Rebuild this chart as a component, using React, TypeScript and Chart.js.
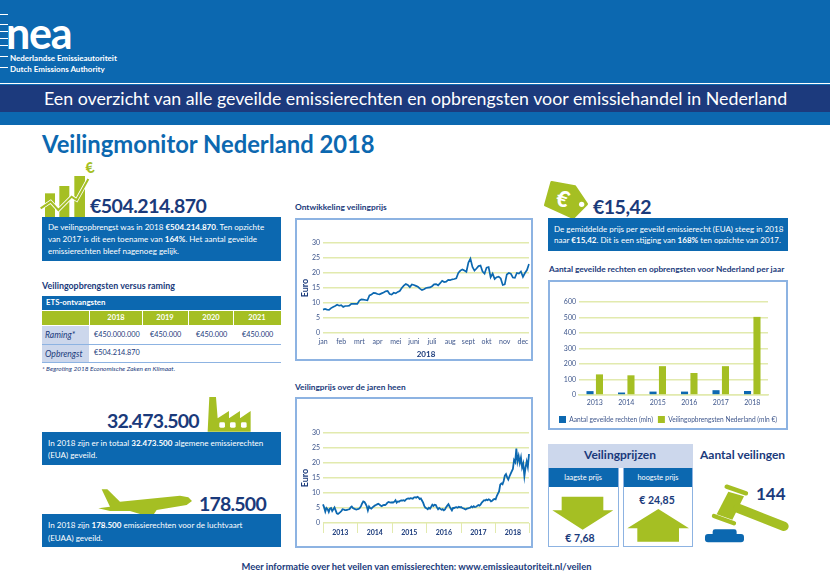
import React, { useEffect, useRef } from "react";
import { Chart, registerables } from "chart.js";
Chart.register(...registerables);

const BLUE = "#0c68b0", NAVY = "#1a3a7b", LIME = "#a5bf23", BORDER = "#8db3e2", LIGHT = "#ccd7ec", GRID = "#e2eaae", TICK = "#3f578c";
const FONT = "Lato";
Chart.defaults.font.family = FONT;

const months = ["jan", "feb", "mrt", "apr", "mei", "juni", "juli", "aug", "sept", "okt", "nov", "dec"];
const priceJan = [7.8, 8, 7.8, 7.7, 8.3, 8.7, 9, 9.4, 9.1];
const priceFeb = [9.3, 8.7, 9, 9, 9.1, 9.7, 9.7, 9.7, 9.7];
const priceMrt = [10.8, 11.2, 11.1, 11, 10.9, 12.5, 12.8, 13.4, 13.3];
const priceApr = [13, 12.9, 13.2, 13.5, 13.9, 14, 13, 12.8, 13.4];
const priceMei = [13.2, 13.7, 14, 15, 15.8, 16.3, 16, 15.3, 16.2];
const priceJun = [16, 15.7, 15.4, 14.8, 14.3, 14.6, 15, 15.1, 15.2];
const priceJul = [15.6, 16.2, 16.3, 15.9, 16.6, 17.4, 17, 17.1, 17.7];
const priceAug = [17.6, 17.9, 18, 18.2, 20, 20.8, 21.2, 20.8, 20.4];
const priceSep = [23.5, 24.8, 22, 20.8, 21.5, 22.3, 22.5, 20.5, 19.8];
const priceOkt = [21.8, 22, 18.6, 19.8, 18, 18.6, 18.8, 18.2, 16];
const priceNov = [16.2, 19.5, 20, 19.8, 18.5, 18.4, 20, 19.8, 20.5];
const priceDec = [18.7, 20, 21, 23];
const price2018 = [priceJan, priceFeb, priceMrt, priceApr, priceMei, priceJun, priceJul, priceAug, priceSep, priceOkt, priceNov, priceDec];

const years = ["2013", "2014", "2015", "2016", "2017", "2018"];
const hist2013 = [6.2, 5.2, 3.8, 5, 4.6, 3.7, 4.8, 5, 4, 4.6, 5.2, 4.2, 3.2, 3, 3.3, 3.6, 4, 4.6, 4.5, 4.3, 4.3, 4.4, 4.5, 4.6, 5.2, 5.5, 5, 4.8, 4.6, 4.5];
const hist2014 = [4.6, 4.7, 5, 5.6, 6.5, 7.2, 7, 6.4, 5.6, 4.2, 5.5, 5, 4.8, 5.2, 5.5, 5.8, 6, 6.2, 6.4, 6.2, 5.8, 5.6, 5.9, 6, 6, 6.3, 6.8, 7, 6.9, 6.8];
const hist2015 = [6.9, 6.8, 7.1, 7.6, 6.8, 7.2, 7.1, 7.4, 7.5, 7.5, 7.6, 7.4, 7.8, 8.1, 8.2, 8.1, 8.3, 8.2, 8.1, 8.5, 8.6, 8.4, 8.7, 8.5, 8, 8.2, 7.5, 6.8, 5.7, 5.1];
const hist2016 = [4.9, 4.6, 5.1, 4.8, 5.4, 6.1, 5.7, 6.1, 6, 5.2, 4.6, 5, 4.7, 4.4, 4.6, 4.2, 4.5, 5.3, 5.8, 6.3, 5.5, 4.8, 4.2, 5, 5, 5.2, 5.3, 5.1, 5.4, 5.2];
const hist2017 = [5.3, 5, 4.9, 4.7, 4.5, 4.8, 4.9, 5, 5.1, 5.5, 5.2, 5.6, 5.3, 5.4, 5.7, 6, 5.8, 6.2, 6.8, 7.2, 7.6, 7.5, 7.8, 7.6, 7.9, 7.7, 7.2, 7.4, 7.8, 8];
const hist2018 = [7.9, 9, 9.8, 10.5, 12.8, 13.2, 12.9, 14, 15.8, 16.3, 15.2, 14.5, 15.5, 16.4, 17.2, 18, 21, 20.3, 24.8, 20.5, 22.3, 20, 21.8, 18.5, 19.8, 15.6, 18.5, 20.5, 18.7, 23];
const histAll = [hist2013, hist2014, hist2015, hist2016, hist2017, hist2018];

const barYears = ["2013", "2014", "2015", "2016", "2017", "2018"];
const rights = [25, 16, 22, 22, 31, 26];
const revenue = [133, 127, 186, 142, 186, 504];

function useChart(make: (c: HTMLCanvasElement) => Chart) {
  const ref = useRef<HTMLCanvasElement>(null);
  useEffect(() => {
    const ch = make(ref.current!);
    return () => ch.destroy();
  }, []);
  return ref;
}

const yScale = (w: number, max: number, step: number, withTitle: boolean) => ({
  min: 0, max,
  afterFit: (s: any) => { s.width = w; },
  ticks: { stepSize: step, color: TICK, font: { size: 7 }, padding: 3 },
  grid: { color: GRID, lineWidth: 1.6, drawTicks: false },
  border: { display: false },
  title: { display: withTitle, text: "Euro", color: NAVY, font: { size: 9, weight: "bold" as const }, padding: 0 },
});

function PriceChart() {
  const ref = useChart((c) => {
    const labels: string[] = [];
    const data: number[] = [];
    price2018.forEach((m, i) => m.forEach((v, j) => { labels.push(j === 0 ? months[i] : ""); data.push(v); }));
    return new Chart(c, {
      type: "line",
      data: { labels, datasets: [{ data, borderColor: BLUE, borderWidth: 1.7, pointRadius: 0, tension: 0 }] },
      options: {
        animation: false, responsive: false,
        layout: { padding: { left: 3, right: 2, top: 23, bottom: 0 } },
        plugins: { legend: { display: false }, tooltip: { enabled: false } },
        scales: {
          y: yScale(23, 30, 5, true),
          x: {
            afterFit: (s: any) => { s.height = 26; },
            ticks: { autoSkip: false, maxRotation: 0, color: TICK, font: { size: 7 }, padding: -3 },
            grid: { display: false },
            border: { display: false },
            title: { display: true, text: "2018", color: NAVY, font: { size: 8, weight: "bold" }, padding: { top: 3, bottom: 0 } },
          },
        },
      } as any,
    });
  });
  return <canvas ref={ref} width={234} height={139} style={{ position: "absolute", left: 297, top: 220, width: 234, height: 139 }} />;
}

function HistoryChart() {
  const ref = useChart((c) => {
    const labels: string[] = [];
    const data: number[] = [];
    histAll.forEach((y, i) => y.forEach((v, j) => { labels.push(j === 15 ? years[i] : ""); data.push(v); }));
    const n = data.length;
    return new Chart(c, {
      type: "line",
      data: { labels, datasets: [{ data, borderColor: BLUE, borderWidth: 1.8, pointRadius: 0, tension: 0 }] },
      options: {
        animation: false, responsive: false,
        layout: { padding: { left: 3, right: 2, top: 34, bottom: 0 } },
        plugins: { legend: { display: false }, tooltip: { enabled: false } },
        scales: {
          y: yScale(23, 30, 5, true),
          x: {
            afterFit: (s: any) => { s.height = 23; },
            ticks: { autoSkip: false, maxRotation: 0, color: NAVY, font: { size: 7, weight: "bold" }, padding: -4 },
            grid: {
              drawOnChartArea: false, tickLength: 10, lineWidth: 1,
              color: (ctx: any) => (ctx.index % 30 === 0 || ctx.index === n - 1 ? GRID : "rgba(0,0,0,0)"),
            },
            border: { display: false },
          },
        },
      } as any,
    });
  });
  return <canvas ref={ref} width={234} height={147} style={{ position: "absolute", left: 297, top: 399, width: 234, height: 147 }} />;
}

function BarsChart() {
  const ref = useChart((c) => new Chart(c, {
    type: "bar",
    data: {
      labels: barYears,
      datasets: [
        { label: "Aantal geveilde rechten (mln)", data: rights, backgroundColor: BLUE, categoryPercentage: 0.6, barPercentage: 0.75 },
        { label: "Veilingopbrengsten Nederland (mln €)", data: revenue, backgroundColor: LIME, categoryPercentage: 0.6, barPercentage: 0.75 },
      ],
    },
    options: {
      animation: false, responsive: false,
      layout: { padding: { left: 0, right: 0, top: 20, bottom: 0 } },
      plugins: {
        tooltip: { enabled: false },
        legend: {
          position: "bottom",
          labels: { boxWidth: 7, boxHeight: 7, padding: 5, color: TICK, font: { size: 6.6 } },
        },
      },
      scales: {
        y: { ...yScale(29, 600, 100, false) },
        yRight: {
          position: "right",
          afterFit: (s: any) => { s.width = 18; },
          ticks: { display: false },
          grid: { display: false },
          border: { display: false },
        },
        x: {
          afterFit: (s: any) => { s.height = 16; },
          ticks: { color: TICK, font: { size: 7 }, padding: -4 },
          grid: { display: false },
          border: { color: GRID, width: 1.6 },
        },
      },
    } as any,
  }));
  return <canvas ref={ref} width={236} height={151} style={{ position: "absolute", left: 550, top: 282, width: 236, height: 151 }} />;
}

type TP = { x: number; y: number; s: number; b?: boolean; c?: string; a?: "l" | "c" | "r"; i?: boolean; ls?: number; children: React.ReactNode };
function T({ x, y, s, b, c = NAVY, a = "l", i, ls, children }: TP) {
  const tx = a === "c" ? "-50%" : a === "r" ? "-100%" : "0";
  return (
    <div style={{
      position: "absolute", left: x, top: y, transform: `translate(${tx},-50%)`, fontSize: s, lineHeight: 1,
      fontWeight: b ? 700 : 400, fontStyle: i ? "italic" : "normal", color: c, whiteSpace: "nowrap", letterSpacing: ls,
    }}>{children}</div>
  );
}
function R({ x, y, w, h, c, bd }: { x: number; y: number; w: number; h: number; c?: string; bd?: string }) {
  return <div style={{ position: "absolute", left: x, top: y, width: w, height: h, background: c, border: bd, boxSizing: "border-box" }} />;
}

function Icons() {
  return (
    <svg width={830} height={587} style={{ position: "absolute", left: 0, top: 0 }}>
      <g fill="#fff">
        <rect x={0} y={14} width={8} height={1} />
        <rect x={0} y={24} width={8} height={1} />
        <rect x={0} y={31} width={8} height={1} />
        <rect x={0} y={38} width={8} height={1} />
        <rect x={0} y={45} width={8} height={1} />
        <rect x={0} y={56} width={8} height={1} />
        <rect x={0} y={67} width={8} height={1} />
      </g>
      <g transform="translate(30,155) scale(0.3333)">
        <rect x={45} y={115} width={30} height={72} fill={LIME} />
        <rect x={88} y={93} width={30} height={94} fill={LIME} />
        <rect x={133} y={63} width={32} height={124} fill={LIME} />
        <polyline points="32,160 62,140 85,165 125,125 140,135 175,72" fill="none" stroke="#fff" strokeWidth={11} />
        <polyline points="32,160 62,140 85,165 125,125 140,135 175,72" fill="none" stroke={LIME} strokeWidth={6} />
        <text x={180} y={54} fontSize={44} fontWeight={900} fill={LIME} textAnchor="middle" transform="rotate(-15 180 40)">€</text>
      </g>
      <g transform="translate(30,385) scale(0.3333)" fill={LIME}>
        <polygon points="538,36 558,36 563,100 597,78 597,100 630,78 630,100 662,78 662,140 533,140" />
        <rect x={568} y={112} width={17} height={16} rx={4} fill="#fff" />
        <rect x={600} y={112} width={17} height={16} rx={4} fill="#fff" />
        <rect x={633} y={112} width={17} height={16} rx={4} fill="#fff" />
        <polygon points="215,313 232,313 270,350 450,332 475,337 486,348 470,360 380,375 372,387 330,387 300,378 240,378 205,370 240,365" />
      </g>
      <g transform="translate(540,155) scale(0.3333)">
        <polygon points="35,82 105,95 140,147 100,188 16,150" fill={LIME} stroke={LIME} strokeWidth={8} strokeLinejoin="round" />
        <circle cx={125} cy={148} r={8} fill="#fff" />
        <text x={68} y={155} fontSize={66} fontWeight={900} fill="#fff" textAnchor="middle" transform="rotate(18 68 135)">€</text>
      </g>
      <g transform="translate(540,435) scale(0.3333)">
        <polygon points="65,185 190,185 190,226 220,226 128,284 37,226 65,226" fill={LIME} />
        <polygon points="355,222 447,280 417,280 417,320 292,320 292,280 262,280" fill={LIME} />
        <line x1={560} y1={155} x2={618} y2={175} stroke={LIME} strokeWidth={13} strokeLinecap="round" />
        <line x1={522} y1={243} x2={582} y2={265} stroke={LIME} strokeWidth={13} strokeLinecap="round" />
        <polygon points="565,170 612,184 577,254 530,238" fill={LIME} />
        <line x1={595} y1={220} x2={732} y2={274} stroke={LIME} strokeWidth={28} strokeLinecap="round" />
        <rect x={518} y={283} width={72} height={20} rx={7} fill={BLUE} />
        <rect x={495} y={297} width={117} height={25} rx={9} fill={BLUE} />
      </g>
    </svg>
  );
}

const bodySize = 8.05;
const BIG = 19.5;

export default function App() {
  return (
    <div style={{ position: "absolute", left: 0, top: 0, width: 830, height: 587, overflow: "hidden", background: "#fff", fontFamily: FONT }}>
      <R x={0} y={0} w={830} h={125} c={BLUE} />
      <R x={0} y={83} w={830} h={1} c="#fff" />
      <R x={0} y={85} w={830} h={27} c="#1c3a7d" />
      <Icons />
      <T x={6} y={32} s={43} b c="#fff" ls={-1.2}>nea</T>
      <T x={10} y={58} s={8} b c="#fff">Nederlandse Emissieautoriteit</T>
      <T x={10} y={69} s={8} b c="#fff">Dutch Emissions Authority</T>
      <T x={44} y={98.5} s={17.8} c="#fff">Een overzicht van alle geveilde emissierechten en opbrengsten voor emissiehandel in Nederland</T>
      <T x={42} y={145} s={23.8} b c={BLUE}>Veilingmonitor Nederland 2018</T>

      <T x={90} y={206} s={BIG} b ls={-0.5}>€504.214.870</T>
      <R x={42} y={217} w={239} h={44} c={BLUE} />
      <T x={48} y={227} s={bodySize} c="#fff">De veilingopbrengst was in 2018 <b>€504.214.870</b>. Ten opzichte</T>
      <T x={48} y={239} s={bodySize} c="#fff">van 2017 is dit een toename van <b>164%</b>. Het aantal geveilde</T>
      <T x={48} y={251} s={bodySize} c="#fff">emissierechten bleef nagenoeg gelijk.</T>

      <T x={42} y={286} s={8.9} b>Veilingopbrengsten versus raming</T>
      <R x={42} y={296} w={239} h={14} c={BLUE} />
      <T x={46} y={303} s={7.8} b c="#fff">ETS-ontvangsten</T>
      <R x={42} y={311} w={47} h={14} c={LIME} />
      <R x={90} y={311} w={52} h={14} c={LIME} />
      <R x={143} y={311} w={45} h={14} c={LIME} />
      <R x={189} y={311} w={44} h={14} c={LIME} />
      <R x={234} y={311} w={47} h={14} c={LIME} />
      <T x={116} y={318} s={7.5} b c="#fff" a="c">2018</T>
      <T x={165} y={318} s={7.5} b c="#fff" a="c">2019</T>
      <T x={211} y={318} s={7.5} b c="#fff" a="c">2020</T>
      <T x={257} y={318} s={7.5} b c="#fff" a="c">2021</T>
      <R x={42} y={326} w={47} h={18} c={LIGHT} />
      <R x={42} y={345} w={47} h={17} c={LIGHT} />
      <R x={42} y={344} w={239} h={1} c={BORDER} />
      <R x={42} y={362} w={239} h={1} c={BORDER} />
      <T x={45} y={335} s={8.6} i>Raming*</T>
      <T x={45} y={354} s={8.6} i>Opbrengst</T>
      <T x={94} y={335} s={7.3}>€450.000.000</T>
      <T x={150} y={335} s={7.3}>€450.000</T>
      <T x={196} y={335} s={7.3}>€450.000</T>
      <T x={242} y={335} s={7.3}>€450.000</T>
      <T x={94} y={353} s={7.3}>€504.214.870</T>
      <T x={42} y={369} s={6.5} i>* Begroting 2018 Economische Zaken en Klimaat.</T>

      <T x={107} y={421} s={BIG} b ls={-0.8}>32.473.500</T>
      <R x={42} y={432} w={239} h={33} c={BLUE} />
      <T x={48} y={443} s={bodySize} c="#fff">In 2018 zijn er in totaal <b>32.473.500</b> algemene emissierechten</T>
      <T x={48} y={455} s={bodySize} c="#fff">(EUA) geveild.</T>
      <T x={199} y={504} s={BIG} b ls={-0.8}>178.500</T>
      <R x={42} y={514} w={239} h={33} c={BLUE} />
      <T x={48} y={525} s={bodySize} c="#fff">In 2018 zijn <b>178.500</b> emissierechten voor de luchtvaart</T>
      <T x={48} y={538} s={bodySize} c="#fff">(EUAA) geveild.</T>

      <T x={295} y={207} s={8.4} b>Ontwikkeling veilingprijs</T>
      <R x={295} y={218} w={238} h={143} bd={`2px solid ${BORDER}`} />
      <PriceChart />
      <T x={295} y={387} s={8.3} b>Veilingprijs over de jaren heen</T>
      <R x={295} y={397} w={238} h={151} bd={`2px solid ${BORDER}`} />
      <HistoryChart />

      <T x={593} y={207} s={BIG} b ls={-0.5}>€15,42</T>
      <R x={548} y={218} w={240} h={33} c={BLUE} />
      <T x={554} y={229} s={bodySize} c="#fff">De gemiddelde prijs per geveild emissierecht (EUA) steeg in 2018</T>
      <T x={554} y={240} s={bodySize} c="#fff">naar <b>€15,42</b>. Dit is een stijging van <b>168%</b> ten opzichte van 2017.</T>
      <T x={549} y={269} s={8.3} b>Aantal geveilde rechten en opbrengsten voor Nederland per jaar</T>
      <R x={548} y={280} w={240} h={150} bd={`2px solid ${BORDER}`} />
      <BarsChart />

      <R x={548} y={444} w={145} h={24} c={LIGHT} />
      <T x={620} y={455} s={12} b a="c">Veilingprijzen</T>
      <R x={548} y={468} w={71} h={79} bd={`1.5px solid ${BORDER}`} />
      <R x={623} y={468} w={70} h={79} bd={`1.5px solid ${BORDER}`} />
      <R x={549} y={468} w={69} h={19} c={BLUE} />
      <R x={624} y={468} w={68} h={19} c={BLUE} />
      <T x={583} y={478} s={7.3} c="#fff" a="c">laagste prijs</T>
      <T x={658} y={478} s={7.3} c="#fff" a="c">hoogste prijs</T>
      <T x={580} y={538} s={10.5} b a="c">€ 7,68</T>
      <T x={657} y={500} s={10.5} b a="c">€ 24,85</T>
      <T x={700} y={455} s={12} b>Aantal veilingen</T>
      <T x={756} y={493} s={17} b>144</T>

      <T x={416.5} y={567} s={9.35} b a="c">Meer informatie over het veilen van emissierechten: www.emissieautoriteit.nl/veilen</T>
    </div>
  );
}
